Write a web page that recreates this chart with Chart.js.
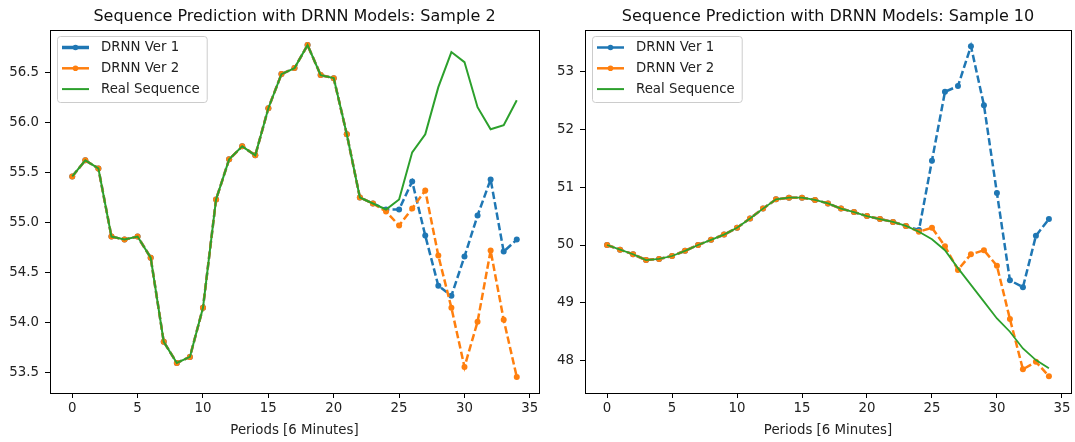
<!DOCTYPE html>
<html>
<head>
<meta charset="utf-8">
<script src="https://cdn.jsdelivr.net/npm/chart.js@4.4.0/dist/chart.umd.min.js"></script>
<style>
body { margin: 0; background: #fff; }
.box { position: absolute; top: 0; height: 442px; }
</style>
</head>
<body>
<div class="box" style="left:0;width:545px"><canvas id="sample2Chart"></canvas></div>
<div class="box" style="left:545px;width:530px"><canvas id="sample10Chart"></canvas></div>
<script>
// periods 0..34 (6 minutes each)
const periods = [0,1,2,3,4,5,6,7,8,9,10,11,12,13,14,15,16,17,18,19,20,21,22,23,24,25,26,27,28,29,30,31,32,33,34];

// Sample 2
const real2 = [55.46,55.62,55.54,54.86,54.83,54.86,54.65,53.81,53.60,53.66,54.15,55.23,55.63,55.76,55.67,56.14,56.48,56.54,56.77,56.47,56.44,55.88,55.25,55.19,55.13,
               55.23,55.70,55.88,56.35,56.70,56.60,56.15,55.93,55.97,56.22];
const ver1_2 = [55.46,55.62,55.54,54.86,54.83,54.86,54.65,53.81,53.60,53.66,54.15,55.23,55.63,55.76,55.67,56.14,56.48,56.54,56.77,56.47,56.44,55.88,55.25,55.19,55.13,
                55.13,55.41,54.87,54.37,54.27,54.66,55.07,55.43,54.71,54.83];
const ver2_2 = [55.46,55.62,55.54,54.86,54.83,54.86,54.65,53.81,53.60,53.66,54.15,55.23,55.63,55.76,55.67,56.14,56.48,56.54,56.77,56.47,56.44,55.88,55.25,55.19,55.11,
                54.97,55.14,55.32,54.67,54.15,53.56,54.01,54.72,54.03,53.46];
const ticks2 = { min: 53.30, max: 56.92, step: 0.5, decimals: 1 };

// Sample 10
const real10 = [50.00,49.92,49.84,49.74,49.76,49.81,49.90,50.00,50.09,50.18,50.30,50.46,50.63,50.79,50.82,50.82,50.78,50.72,50.63,50.57,50.50,50.45,50.40,50.33,50.23,
                50.10,49.91,49.60,49.31,49.02,48.73,48.50,48.21,48.01,47.87];
const ver1_10 = [50.00,49.92,49.84,49.74,49.76,49.81,49.90,50.00,50.09,50.18,50.30,50.46,50.63,50.79,50.82,50.82,50.78,50.72,50.63,50.57,50.50,50.45,50.40,50.33,50.26,
                 51.46,52.65,52.75,53.44,52.42,50.90,49.39,49.27,50.16,50.45];
const ver2_10 = [50.00,49.92,49.84,49.74,49.76,49.81,49.90,50.00,50.09,50.18,50.30,50.46,50.63,50.79,50.82,50.82,50.78,50.72,50.63,50.57,50.50,50.45,50.40,50.33,50.23,
                 50.30,49.98,49.57,49.84,49.91,49.64,48.72,47.85,47.98,47.73];
const ticks10 = { min: 47.44, max: 53.72, step: 1, decimals: 0 };

const BLUE = '#1f77b4', ORANGE = '#ff7f0e', GREEN = '#2ca02c';
Chart.defaults.font.family = "'DejaVu Sans', sans-serif";
Chart.defaults.color = '#222';

const framePlugin = {
    id: 'frame',
    afterDraw(chart, args, opts) {
        const ctx = chart.ctx;
        const ca = chart.chartArea;
        ctx.save();
        // box round the plot
        ctx.strokeStyle = '#000';
        ctx.lineWidth = 1;
        ctx.strokeRect(Math.round(ca.left) + 0.5, Math.round(ca.top) + 0.5,
                       Math.round(ca.right - ca.left), Math.round(ca.bottom - ca.top));
        // title
        ctx.fillStyle = '#111';
        ctx.font = "16px 'DejaVu Sans'";
        ctx.textAlign = 'center';
        ctx.textBaseline = 'alphabetic';
        ctx.fillText(opts.title, (ca.left + ca.right) / 2, 20.5);
        // legend (matplotlib style, upper left)
        const items = chart.data.datasets.slice().reverse();
        ctx.font = "13.33px 'DejaVu Sans'";
        let textW = 0;
        items.forEach(d => { textW = Math.max(textW, ctx.measureText(d.label).width); });
        const bx = ca.left + 7, by = ca.top + 6, bw = 44 + textW + 7, bh = 66;
        ctx.fillStyle = 'rgba(255,255,255,0.8)';
        ctx.strokeStyle = '#cccccc';
        ctx.beginPath();
        ctx.roundRect(bx + 0.5, by + 0.5, bw, bh, 3);
        ctx.fill();
        ctx.stroke();
        items.forEach((d, i) => {
            const y = ca.top + 17.5 + i * 20.8;
            ctx.strokeStyle = d.borderColor;
            ctx.lineWidth = opts.legendWidths[i];
            ctx.setLineDash([]);
            ctx.beginPath();
            ctx.moveTo(ca.left + 12, y);
            ctx.lineTo(ca.left + 39, y);
            ctx.stroke();
            if (d.pointRadius > 0) {
                ctx.fillStyle = d.borderColor;
                ctx.beginPath();
                ctx.arc(ca.left + 25.5, y, 2.8, 0, Math.PI * 2);
                ctx.fill();
            }
            ctx.fillStyle = '#222';
            ctx.textAlign = 'left';
            ctx.textBaseline = 'middle';
            ctx.fillText(d.label, ca.left + 51, y + 0.5);
        });
        ctx.restore();
    }
};

function createChart(canvasId, title, real, ver1, ver2, yt, yWidth, padRight, widths) {
    const ctx = document.getElementById(canvasId).getContext('2d');
    const pts = arr => periods.map((p, i) => ({ x: p, y: arr[i] }));
    return new Chart(ctx, {
        type: 'line',
        data: {
            // drawn first-on-top, so Real Sequence goes first
            datasets: [
                { label: 'Real Sequence', data: pts(real), borderColor: GREEN, borderWidth: widths.real,
                  pointRadius: 0 },
                { label: 'DRNN Ver 2', data: pts(ver2), borderColor: ORANGE, backgroundColor: ORANGE,
                  borderWidth: 2.5, borderDash: [7.4, 3.2], pointRadius: 3, pointBorderWidth: 0 },
                { label: 'DRNN Ver 1', data: pts(ver1), borderColor: BLUE, backgroundColor: BLUE,
                  borderWidth: 2.5, borderDash: [7.4, 3.2], pointRadius: 3, pointBorderWidth: 0 }
            ]
        },
        options: {
            responsive: true,
            maintainAspectRatio: false,
            animation: false,
            layout: { padding: { top: 30, right: padRight, left: 0, bottom: 0 } },
            plugins: {
                legend: { display: false },
                tooltip: { enabled: false },
                frame: { title: title, legendWidths: widths.legend }
            },
            scales: {
                x: {
                    type: 'linear',
                    min: -1.7,
                    max: 35.7,
                    afterFit: s => { s.height = 49; },
                    grid: { drawOnChartArea: false, drawTicks: true, tickLength: 5, color: '#000' },
                    border: { display: true, color: '#000' },
                    ticks: { stepSize: 5, includeBounds: false, padding: 3, font: { size: 13.33 }, maxRotation: 0 },
                    title: { display: true, text: 'Periods [6 Minutes]', font: { size: 13.33 }, padding: { top: 0, bottom: 3 } }
                },
                y: {
                    min: yt.min,
                    max: yt.max,
                    afterFit: s => { s.width = yWidth; },
                    grid: { drawOnChartArea: false, drawTicks: true, tickLength: 5, color: '#000' },
                    border: { display: true, color: '#000' },
                    ticks: { stepSize: yt.step, includeBounds: false, padding: 6, font: { size: 13.33 },
                             callback: v => v.toFixed(yt.decimals) }
                }
            }
        },
        plugins: [framePlugin]
    });
}

document.addEventListener('DOMContentLoaded', function() {
    createChart('sample2Chart', 'Sequence Prediction with DRNN Models: Sample 2', real2, ver1_2, ver2_2, ticks2, 50, 6,
                { real: 2, legend: [3.5, 2.5, 2] });
    createChart('sample10Chart', 'Sequence Prediction with DRNN Models: Sample 10', real10, ver1_10, ver2_10, ticks10, 40, 4,
                { real: 1.8, legend: [2.5, 2.5, 2] });
});
</script>
</body>
</html>
